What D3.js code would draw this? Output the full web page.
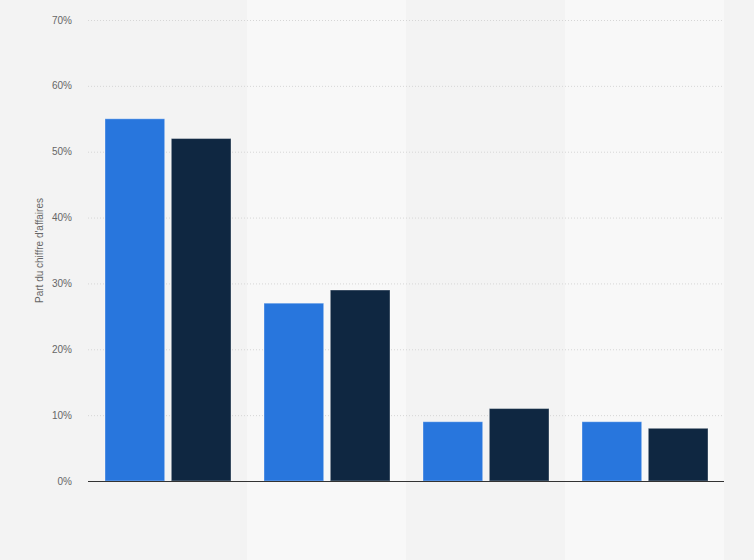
<!DOCTYPE html>
<html>
<head>
<meta charset="utf-8">
<script src="https://cdn.jsdelivr.net/npm/d3@7"></script>
<style>
  body { margin: 0; background: #f3f3f3; }
  svg { display: block; font-family: "Liberation Sans", Arial, sans-serif; }
</style>
</head>
<body>
<svg id="chart"></svg>
<script>
// categories (no labels shown on the x axis)
const categories = ["A", "B", "C", "D"];
const series1 = [55, 27, 9, 9];
const series2 = [52, 29, 11, 8];
const yTicks = [0, 10, 20, 30, 40, 50, 60, 70];

const width = 754, height = 560;
const margin = {top: 20, right: 30, bottom: 79, left: 88};

const svg = d3.select("#chart")
    .attr("width", width)
    .attr("height", height);

const x = d3.scaleBand()
    .domain(categories)
    .range([margin.left, width - margin.right]);

const y = d3.scaleLinear()
    .domain([0, 70])
    .range([height - margin.bottom, margin.top]);

// alternating column bands
svg.append("g")
    .selectAll("rect")
    .data(categories)
    .join("rect")
        .attr("x", d => x(d))
        .attr("y", 0)
        .attr("width", x.bandwidth())
        .attr("height", height)
        .attr("fill", (d, i) => i % 2 ? "#f8f8f8" : "#f3f3f3");

// grid lines
svg.append("g")
    .selectAll("line")
    .data(yTicks.filter(t => t > 0))
    .join("line")
        .attr("x1", margin.left)
        .attr("x2", width - margin.right)
        .attr("y1", d => y(d) + 0.5)
        .attr("y2", d => y(d) + 0.5)
        .attr("stroke", "#d6d6d6")
        .attr("stroke-dasharray", "1,2");

// tick labels
svg.append("g")
    .selectAll("text")
    .data(yTicks)
    .join("text")
        .attr("x", 72)
        .attr("y", d => y(d))
        .attr("dy", "0.35em")
        .attr("text-anchor", "end")
        .attr("fill", "#666")
        .style("font-size", "10px")
        .text(d => d + "%");

// y axis title
svg.append("text")
    .attr("transform", "translate(43," + y(35) + ") rotate(-90)")
    .attr("text-anchor", "middle")
    .attr("fill", "#666")
    .style("font-size", "10px")
    .text("Part du chiffre d'affaires");

// bars
const inner = d3.scaleBand()
    .domain([0, 1])
    .range([17, x.bandwidth() - 16])
    .paddingInner(0.1);

const colors = ["#2876dd", "#0f2741"];
const rows = categories.map((c, i) => ({cat: c, vals: [series1[i], series2[i]]}));

svg.append("g")
    .selectAll("g")
    .data(rows)
    .join("g")
        .attr("transform", d => "translate(" + x(d.cat) + ",0)")
    .selectAll("rect")
    .data(d => d.vals.map((v, k) => ({k: k, v: v})))
    .join("rect")
        .attr("x", d => inner(d.k))
        .attr("y", d => y(d.v))
        .attr("width", inner.bandwidth())
        .attr("height", d => y(0) - y(d.v))
        .attr("fill", d => colors[d.k])
        .attr("stroke", "rgba(255,255,255,0.35)")
        .attr("stroke-width", 1);

// baseline
svg.append("line")
    .attr("x1", margin.left)
    .attr("x2", width - margin.right)
    .attr("y1", y(0) + 0.5)
    .attr("y2", y(0) + 0.5)
    .attr("stroke", "#333")
    .attr("stroke-width", 1);
</script>
</body>
</html>
